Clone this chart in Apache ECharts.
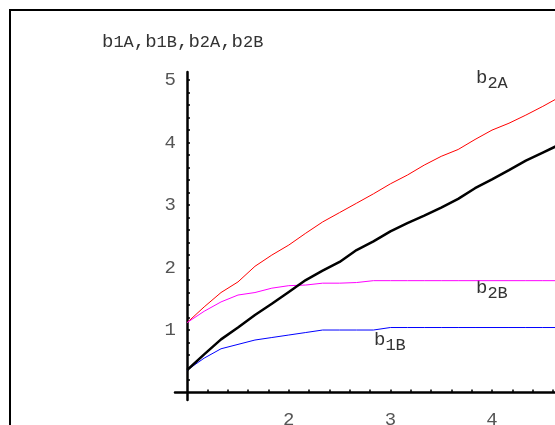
<!DOCTYPE html>
<html>
<head>
<meta charset="utf-8">
<script src="https://cdn.jsdelivr.net/npm/echarts@6/dist/echarts.min.js"></script>
<style>
html,body{margin:0;padding:0;background:#fff;}
#chart{width:555px;height:425px;}
</style>
</head>
<body>
<div id="chart"></div>
<script>
var xValues = [1, 1.167, 1.333, 1.5, 1.667, 1.833, 2, 2.167, 2.333, 2.5, 2.667, 2.833, 3, 3.167, 3.333, 3.5, 3.667, 3.833, 4, 4.167, 4.333, 4.5, 4.667];
var b2A = [1.12, 1.37, 1.60, 1.77, 2.02, 2.20, 2.36, 2.55, 2.73, 2.88, 3.03, 3.18, 3.34, 3.48, 3.64, 3.78, 3.89, 4.05, 4.20, 4.31, 4.44, 4.58, 4.73];
var b1A = [0.36, 0.61, 0.85, 1.04, 1.24, 1.42, 1.61, 1.80, 1.95, 2.09, 2.28, 2.42, 2.58, 2.71, 2.83, 2.96, 3.10, 3.27, 3.41, 3.56, 3.71, 3.84, 3.97];
var b2B = [1.12, 1.30, 1.45, 1.56, 1.60, 1.67, 1.71, 1.72, 1.75, 1.75, 1.76, 1.79, 1.79, 1.79, 1.79, 1.79, 1.79, 1.79, 1.79, 1.79, 1.79, 1.79, 1.79];
var b1B = [0.36, 0.55, 0.70, 0.77, 0.84, 0.88, 0.92, 0.96, 1.00, 1.00, 1.00, 1.00, 1.04, 1.04, 1.04, 1.04, 1.04, 1.04, 1.04, 1.04, 1.04, 1.04, 1.04];
var xTickLabels = [2, 3, 4];
var yTickLabels = [1, 2, 3, 4, 5];
var xMinorTicks = [1.2,1.4,1.6,1.8,2,2.2,2.4,2.6,2.8,3,3.2,3.4,3.6,3.8,4,4.2,4.4,4.6];
var yMinorTicks = [0.2,0.4,0.6,0.8,1,1.2,1.4,1.6,1.8,2,2.2,2.4,2.6,2.8,3,3.2,3.4,3.6,3.8,4,4.2,4.4,4.6,4.8,5];

function pairs(xs, ys){ return xs.map(function(x,i){ return [x, ys[i]]; }); }

var FONT = "'Liberation Mono', 'Courier New', 'DejaVu Sans Mono', monospace";
var chart = echarts.init(document.getElementById('chart'), null, {renderer:'canvas'});
var lineSeries = function(name, data, color, width){
  return {name:name, type:'line', data:pairs(xValues, data), symbol:'none', smooth:false,
    lineStyle:{color:color, width:width}, silent:true, animation:false};
};
var sub = function(t){
  return {type:'text', left:t[0], top:t[1], style:{
    text:'{b|b}{s|' + t[2] + '}',
    rich:{b:{fontFamily:FONT, fontSize:19, fill:'#333', verticalAlign:'bottom', padding:[0,0,5,0]},
          s:{fontFamily:FONT, fontSize:17, fill:'#333', verticalAlign:'bottom'}}}};
};
chart.setOption({
  animation:false,
  backgroundColor:'#fff',
  grid:{left:175, right:0, top:72, bottom:25, containLabel:false, outerBoundsMode:'none'},
  xAxis:{type:'value', min:0.88, max:4.62,
    axisLine:{onZero:true, lineStyle:{color:'#000', width:2.5}},
    axisTick:{show:true, inside:true, length:3, customValues:xMinorTicks, lineStyle:{color:'#000', width:1.5}},
    axisLabel:{customValues:xTickLabels, color:'#555', fontFamily:FONT, fontSize:19, margin:10},
    splitLine:{show:false}},
  yAxis:{type:'value', min:-0.12, max:5.13, offset:-12,
    axisLine:{show:true, onZero:false, lineStyle:{color:'#000', width:2.5}},
    axisTick:{show:true, inside:true, length:3, customValues:yMinorTicks, lineStyle:{color:'#000', width:1.5}},
    axisLabel:{customValues:yTickLabels, color:'#555', fontFamily:FONT, fontSize:19, margin:11},
    splitLine:{show:false}},
  series:[
    lineSeries('b2A', b2A, '#ff0000', 1),
    lineSeries('b2B', b2B, '#ff00ff', 1),
    lineSeries('b1B', b1B, '#0000ff', 1),
    lineSeries('b1A', b1A, '#000000', 2.5)
  ],
  graphic:[
    {type:'rect', shape:{x:10, y:10, width:700, height:600}, style:{fill:null, stroke:'#000', lineWidth:2}, silent:true},
    {type:'text', left:102, top:32, style:{
      text:'{b|b}{s|1A}{b|,b}{s|1B}{b|,b}{s|2A}{b|,b}{s|2B}',
      rich:{b:{fontFamily:FONT, fontSize:19, fill:'#333', verticalAlign:'bottom'},
            s:{fontFamily:FONT, fontSize:17, fill:'#333', verticalAlign:'bottom'}}}},
    sub([476, 68, '2A']),
    sub([476, 278, '2B']),
    sub([374, 330, '1B'])
  ]
});
</script>
</body>
</html>
